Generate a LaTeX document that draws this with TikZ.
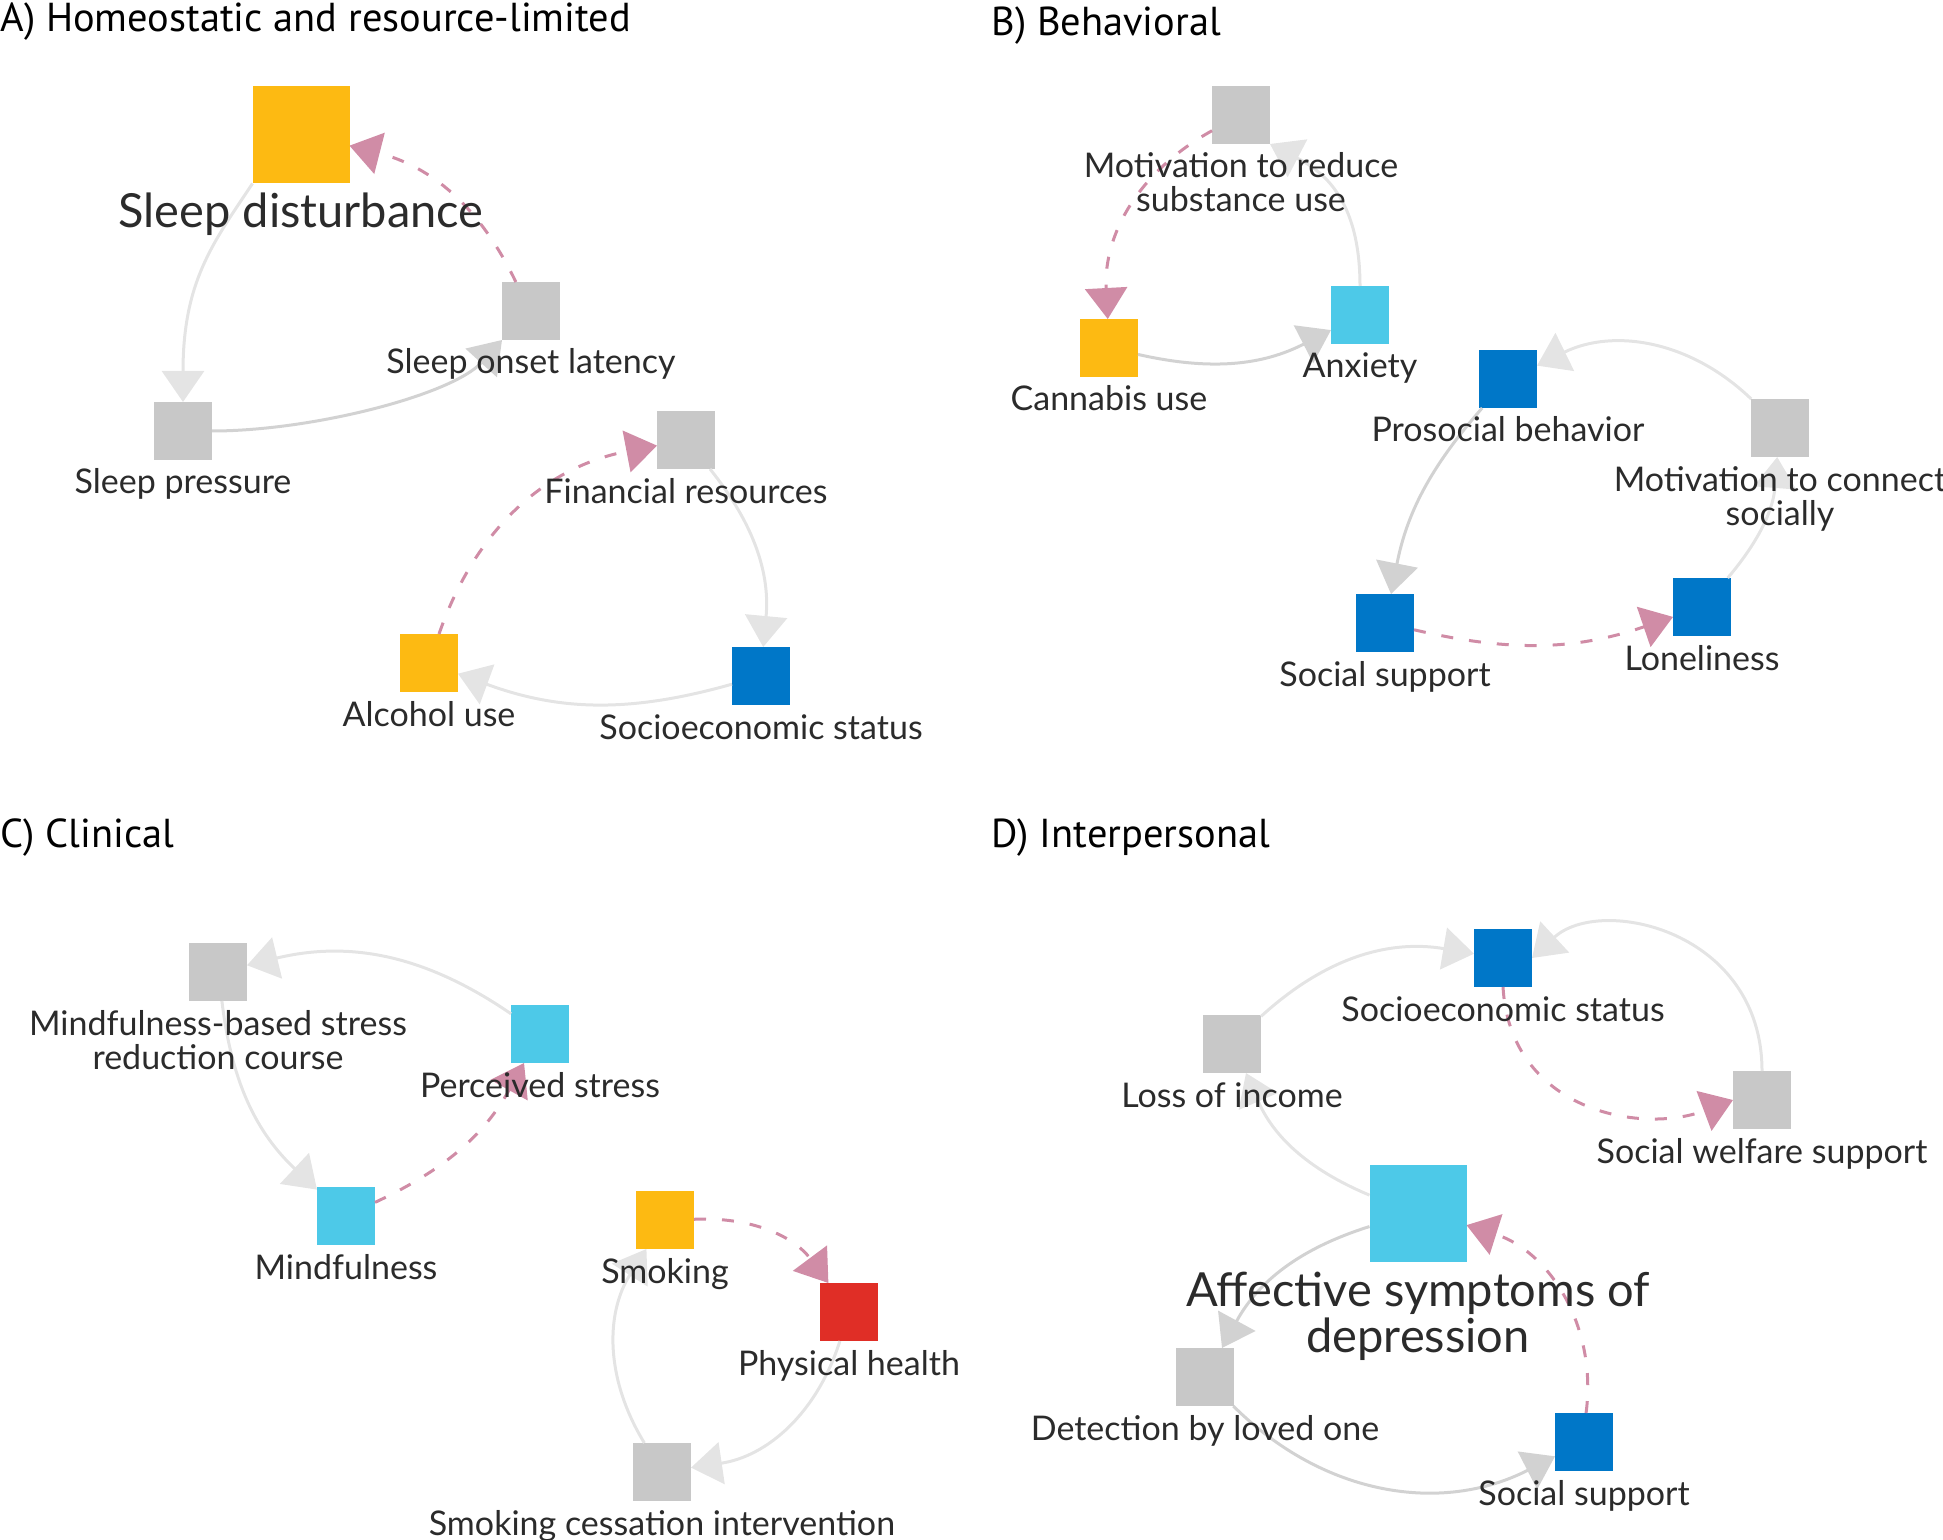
\documentclass[tikz,border=0pt]{standalone}
\usepackage{fontspec}
\setmainfont{Lato}
\newfontfamily\titlefont{PT Sans}
\usetikzlibrary{arrows.meta}
\definecolor{sqgray}{HTML}{C8C8C8}
\definecolor{sqorange}{HTML}{FDBA12}
\definecolor{sqblue}{HTML}{0077C8}
\definecolor{sqcyan}{HTML}{4DC9E8}
\definecolor{sqred}{HTML}{E02E26}
\definecolor{edgepink}{HTML}{D08CA6}
\definecolor{edgelight}{HTML}{E4E4E4}
\definecolor{edgedark}{HTML}{D2D2D2}
\definecolor{txt}{HTML}{2B2B2B}
\tikzset{
  sq/.style={rectangle, minimum size=29pt, inner sep=0pt, outer sep=0pt},
  bigsq/.style={rectangle, minimum size=48.5pt, inner sep=0pt, outer sep=0pt},
  lbl/.style={anchor=base, font=\fontsize{17}{17}\selectfont, text=txt, align=center, inner sep=0pt},
  biglbl/.style={anchor=base, font=\fontsize{23.5}{23}\selectfont, text=txt, align=center, inner sep=0pt},
  ttl/.style={anchor=base west, font=\titlefont\fontsize{20.2}{20}\selectfont, text=black, inner sep=0pt},
  ge/.style={draw=edgelight, line width=1.5pt, -{Triangle[width=21pt,length=15.5pt,fill=edgelight]}},
  gd/.style={draw=edgedark, line width=1.5pt, -{Triangle[width=21pt,length=15.5pt,fill=edgedark]}},
  pe/.style={draw=edgepink, line width=1.5pt, dash pattern=on 6pt off 8pt, -{Triangle[width=21pt,length=15.5pt,fill=edgepink,sep=0pt]}},
}
\begin{document}
\begin{tikzpicture}[x=0.5pt, y=-0.5pt]
\useasboundingbox (0,0) rectangle (1943,1540);
% titles
\node[ttl] (tA) at (0,32) {A) Homeostatic and resource-limited};
\node[ttl] (tB) at (991,36) {B) Behavioral};
\node[ttl] (tC) at (0,847) {C) Clinical};
\node[ttl] (tD) at (991,847) {D) Interpersonal};
% ---------- nodes A
\node[bigsq, fill=sqorange] (sd) at (301,135) {};
\node[sq, fill=sqgray] (sol) at (531,311) {};
\node[sq, fill=sqgray] (sp) at (183,431) {};
\node[sq, fill=sqgray] (fr) at (686,440) {};
\node[sq, fill=sqorange] (alc) at (429,663) {};
\node[sq, fill=sqblue] (sesA) at (761,676) {};
% ---------- nodes B
\node[sq, fill=sqgray] (mrsu) at (1241,115) {};
\node[sq, fill=sqorange] (can) at (1109,348) {};
\node[sq, fill=sqcyan] (anx) at (1360,315) {};
\node[sq, fill=sqblue] (pb) at (1508,379) {};
\node[sq, fill=sqgray] (mcs) at (1780,428) {};
\node[sq, fill=sqblue] (ssB) at (1385,623) {};
\node[sq, fill=sqblue] (lon) at (1702,607) {};
% ---------- nodes C
\node[sq, fill=sqgray] (mbsr) at (218,972) {};
\node[sq, fill=sqcyan] (ps) at (540,1034) {};
\node[sq, fill=sqcyan] (mind) at (346,1216) {};
\node[sq, fill=sqorange] (smk) at (665,1220) {};
\node[sq, fill=sqred] (ph) at (849,1312) {};
\node[sq, fill=sqgray] (sci) at (662,1472) {};
% ---------- nodes D
\node[sq, fill=sqblue] (sesD) at (1503,958) {};
\node[sq, fill=sqgray] (loi) at (1232,1044) {};
\node[sq, fill=sqgray] (sws) at (1762,1100) {};
\node[bigsq, fill=sqcyan] (asd) at (1418,1213) {};
\node[sq, fill=sqgray] (det) at (1205,1377) {};
\node[sq, fill=sqblue] (ssD) at (1584,1442) {};
% ---------- edges A
\draw[ge] (sd.south west) .. controls +(-40,60) and +(0,-120) .. (sp.north);
\draw[gd] (sp.east) .. controls +(100,0) and +(-50,55) .. (sol.south west);
\draw[pe] (sol) to[bend right=25] (sd);
\draw[ge] (fr) to[bend left=22] (sesA);
\draw[ge] (sesA) to[bend left=18] (alc);
\draw[pe] (alc) to[bend left=30] (fr);
% ---------- edges B
\draw[pe] (mrsu) to[bend right=32] (can);
\draw[gd] (can) to[bend right=20] (anx);
\draw[ge] (anx.north) .. controls +(0,-90) and +(50,26) .. (mrsu.south east);
\draw[ge] (mcs) to[bend right=35] (pb);
\draw[gd] (pb) to[bend right=15] (ssB);
\draw[pe] (ssB) to[bend right=16] (lon);
\draw[ge] (lon) to[bend right=18] (mcs);
% ---------- edges C
\draw[ge] (ps) to[bend right=24] (mbsr);
\draw[ge] (mbsr) to[bend right=20] (mind);
\draw[pe] (mind) to[bend right=18] (ps);
\draw[pe] (smk) to[bend left=28] (ph);
\draw[ge] (ph) to[bend left=32] (sci);
\draw[ge] (sci) to[bend left=32] (smk);
% ---------- edges D
\draw[ge] (loi) to[bend left=26] (sesD);
\draw[ge] (sws.north) .. controls +(0,-141) and +(68,-63) .. (sesD.east);
\draw[pe] (sesD.south) .. controls +(7,123) and +(-93,35) .. (sws.west);
\draw[ge] (asd) to[bend left=22] (loi);
\draw[gd] (asd) to[bend right=22] (det);
\draw[gd] (det) to[bend right=36] (ssD);
\draw[pe] (ssD) to[bend right=40] (asd);
% ---------- labels A
\node[biglbl] (sdl) at (301,228) {Sleep disturbance};
\node[lbl] (soll) at (531,374) {Sleep onset latency};
\node[lbl] (spl) at (183,494) {Sleep pressure};
\node[lbl] (frl) at (686,503) {Financial resources};
\node[lbl] (alcl) at (429,726) {Alcohol use};
\node[lbl] (sesAl) at (761,739) {Socioeconomic status};
% ---------- labels B
\node[lbl] (mrsul) at (1241,212) {Motivation to reduce\\substance use};
\node[lbl] (canl) at (1109,411) {Cannabis use};
\node[lbl] (anxl) at (1360,378) {Anxiety};
\node[lbl] (pbl) at (1508,442) {Prosocial behavior};
\node[lbl] (mcsl) at (1780,525) {Motivation to connect\\socially};
\node[lbl] (ssBl) at (1385,686) {Social support};
\node[lbl] (lonl) at (1702,670) {Loneliness};
% ---------- labels C
\node[lbl] (mbsrl) at (218,1069) {Mindfulness-based stress\\reduction course};
\node[lbl] (psl) at (540,1097) {Perceived stress};
\node[lbl] (mindl) at (346,1279) {Mindfulness};
\node[lbl] (smkl) at (665,1283) {Smoking};
\node[lbl] (phl) at (849,1375) {Physical health};
\node[lbl] (scil) at (662,1535) {Smoking cessation intervention};
% ---------- labels D
\node[lbl] (sesDl) at (1503,1021) {Socioeconomic status};
\node[lbl] (loil) at (1232,1107) {Loss of income};
\node[lbl] (swsl) at (1762,1163) {Social welfare support};
\node[biglbl] (asdl) at (1418,1352) {Affective symptoms of\\depression};
\node[lbl] (detl) at (1205,1440) {Detection by loved one};
\node[lbl] (ssDl) at (1584,1505) {Social support};
\end{tikzpicture}
\end{document}
